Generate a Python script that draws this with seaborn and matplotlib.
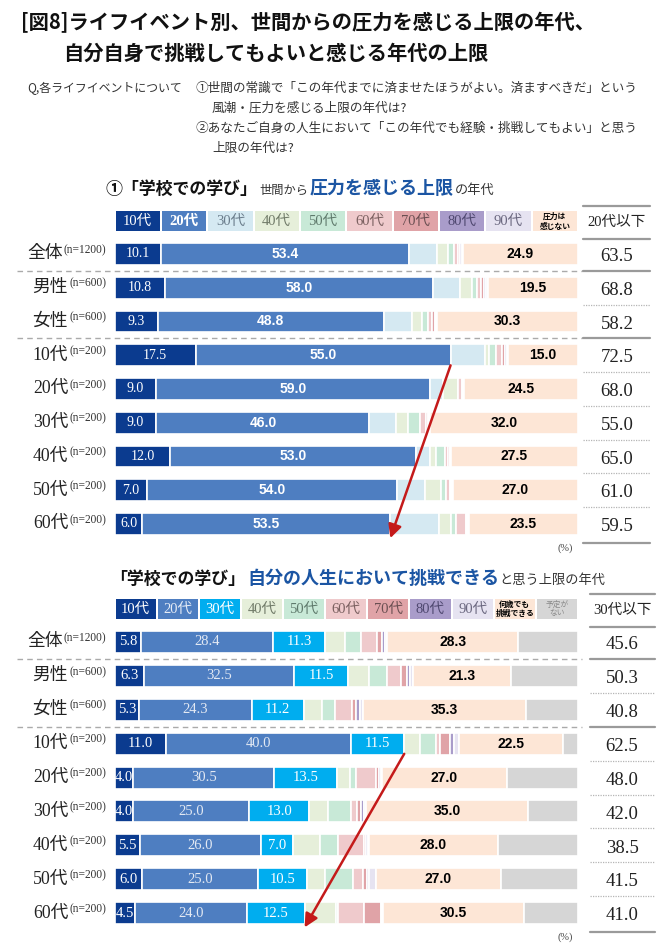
import numpy as np
import matplotlib
matplotlib.use('Agg')
import matplotlib.pyplot as plt
import seaborn as sns
from matplotlib.patches import Rectangle

rows = ['全体', '男性', '女性', '10代', '20代', '30代', '40代', '50代', '60代']
row_n = ['(n=1200)', '(n=600)', '(n=600)'] + ['(n=200)'] * 6

# ① 世間から圧力を感じる上限の年代 (%)
p_10s = [10.1, 10.8, 9.3, 17.5, 9.0, 9.0, 12.0, 7.0, 6.0]
p_20s = [53.4, 58.0, 48.8, 55.0, 59.0, 46.0, 53.0, 54.0, 53.5]
p_30s = [6.0, 5.7, 6.0, 7.4, 2.8, 5.8, 3.0, 6.0, 10.4]
p_40s = [2.5, 2.6, 2.2, 1.0, 3.2, 2.6, 1.3, 3.4, 2.8]
p_50s = [1.2, 1.1, 1.4, 1.5, 0.2, 2.5, 2.1, 1.2, 0.9]
p_60s = [1.0, 0.8, 0.9, 1.1, 0.7, 1.3, 0.6, 0.7, 2.2]
p_70s = [0.4, 0.7, 0.5, 0.7, 0.3, 0.4, 0.3, 0.3, 0.3]
p_80s = [0.3, 0.5, 0.3, 0.4, 0.2, 0.2, 0.1, 0.2, 0.2]
p_90s = [0.2, 0.3, 0.2, 0.4, 0.1, 0.2, 0.1, 0.2, 0.2]
p_none = [24.9, 19.5, 30.3, 15.0, 24.5, 32.0, 27.5, 27.0, 23.5]
p_total = [63.5, 68.8, 58.2, 72.5, 68.0, 55.0, 65.0, 61.0, 59.5]

# ② 自分の人生において挑戦できると思う上限の年代 (%)
c_10s = [5.8, 6.3, 5.3, 11.0, 4.0, 4.0, 5.5, 6.0, 4.5]
c_20s = [28.4, 32.5, 24.3, 40.0, 30.5, 25.0, 26.0, 25.0, 24.0]
c_30s = [11.3, 11.5, 11.2, 11.5, 13.5, 13.0, 7.0, 10.5, 12.5]
c_40s = [4.3, 4.7, 3.9, 3.4, 2.8, 4.0, 5.8, 4.0, 6.7]
c_50s = [3.4, 3.8, 2.9, 3.4, 1.4, 5.1, 3.9, 5.9, 0.6]
c_60s = [3.4, 3.1, 3.6, 1.0, 4.3, 1.2, 5.6, 2.3, 5.5]
c_70s = [1.1, 1.1, 1.0, 2.0, 0.6, 0.9, 0.5, 0.7, 3.6]
c_80s = [0.6, 0.8, 0.7, 1.0, 0.3, 0.6, 0.3, 0.4, 0.3]
c_90s = [0.5, 0.5, 0.6, 1.0, 0.3, 0.4, 0.2, 1.6, 0.2]
c_any = [28.3, 21.3, 35.3, 22.5, 27.0, 35.0, 28.0, 27.0, 30.5]
c_none = [12.8, 14.4, 11.2, 3.2, 15.3, 10.8, 17.2, 16.6, 11.6]
c_total = [45.6, 50.3, 40.8, 62.5, 48.0, 42.0, 38.5, 41.5, 41.0]

top_keys = ['10代', '20代', '30代', '40代', '50代', '60代', '70代', '80代', '90代', '圧力は\n感じない']
bot_keys = ['10代', '20代', '30代', '40代', '50代', '60代', '70代', '80代', '90代',
            '何歳でも\n挑戦できる', '予定が\nない']

NAVY, BLUE, PALE, CYAN = '#0b3b8f', '#4e7ec1', '#d5e9f2', '#00adef'
G40, G50, P60, P70 = '#e6efda', '#c8e9d7', '#efcacc', '#e0a3a7'
V80, V90, PEACH, GRAY = '#a99cca', '#e6e3f1', '#fde6d6', '#d6d6d6'
RED = '#c41a1a'

top_colors = [NAVY, BLUE, PALE, G40, G50, P60, P70, V80, V90, PEACH]
bot_colors = [NAVY, BLUE, CYAN, G40, G50, P60, P70, V80, V90, PEACH, GRAY]
top_txt = ['white', 'white', '#6b7d8c', '#707a68', '#5f7a6c', '#7a6060', '#6a4f52', '#4f4870', '#6b6880', 'black']
bot_txt = ['white', '#e6ecf6', 'white', '#707a68', '#5f7a6c', '#7a6060', '#6a4f52', '#4f4870', '#6b6880',
           'black', '#8a8a8a']

sns.set_theme(style='white')
plt.rcParams['font.family'] = ['Noto Sans CJK JP', 'DejaVu Sans']
SERIF = ['Liberation Serif', 'Noto Sans CJK JP']
BOLD = ['Liberation Sans', 'Noto Sans CJK JP']

W, H = 670, 948
fig = plt.figure(figsize=(W / 100, H / 100), dpi=100)
fig.patch.set_facecolor('white')
renderer = fig.canvas.get_renderer()


def put(x, y, s, **kw):
    kw.setdefault('va', 'center')
    return fig.text(x / W, 1 - y / H, s, **kw)


def chain(x, y, parts):
    for s, gap, kw in parts:
        t = put(x + gap, y, s, va='baseline', **kw)
        x = t.get_window_extent(renderer).x1


# title and question
put(21, 23, '[図8]ライフイベント別、世間からの圧力を感じる上限の年代、', fontsize=14.6, weight='bold', color='#111111')
put(63, 53, '自分自身で挑戦してもよいと感じる年代の上限', fontsize=14.6, weight='bold', color='#111111')
q = dict(fontsize=9.1, color='#333333')
put(27, 88, 'Q,各ライフイベントについて', fontsize=8.6, color='#333333')
put(196, 88, '①世間の常識で「この年代までに済ませたほうがよい。済ますべきだ」という', **q)
put(212, 108, '風潮・圧力を感じる上限の年代は?', **q)
put(196, 128, '②あなたご自身の人生において「この年代でも経験・挑戦してもよい」と思う', **q)
put(212, 148, '上限の年代は?', **q)

chain(106, 194, [('①「学校での学び」', 0, dict(fontsize=12.2, weight='bold', color='#111111')),
                 ('世間から', 2, dict(fontsize=8.8, color='#333333')),
                 ('圧力を感じる上限', 1, dict(fontsize=13, weight='bold', color='#1b55a3')),
                 ('の年代', 1, dict(fontsize=9.5, color='#333333'))])
chain(110, 584, [('「学校での学び」', 0, dict(fontsize=12.2, weight='bold', color='#111111')),
                 ('自分の人生において挑戦できる', 2, dict(fontsize=13, weight='bold', color='#1b55a3')),
                 ('と思う上限の年代', 0, dict(fontsize=9.5, color='#333333'))])


def draw_chart(top_px, step, series, colors, keys, key_colors, labels, totals, head, col_x, arrow):
    ax = fig.add_axes([114.6 / W, 1 - (top_px + 9 * step) / H, 463.4 / W, 9 * step / H])
    left = np.zeros(len(rows))
    for k, (vals, col) in enumerate(zip(series, colors)):
        sns.barplot(x=vals, y=rows, left=left, color=col, saturation=1, width=0.65, orient='h',
                    errorbar=None, edgecolor='white', linewidth=1.2, ax=ax)
        if k in labels:
            ax.bar_label(ax.containers[-1], labels=['%.1f' % v for v in vals], label_type='center',
                         clip_on=True, **labels[k])
        left = left + np.array(vals)
    ax.set_xlim(0, 100)
    ax.set_ylim(8.5, -0.5)
    ax.axis('off')
    tr = ax.get_yaxis_transform()

    # legend keys
    n = len(keys)
    g = 1 / 463.4
    for i, (key, col, tc) in enumerate(zip(keys, colors, key_colors)):
        ax.add_patch(Rectangle((i / n + g, -1.27), 1 / n - 2 * g, 0.6, facecolor=col, edgecolor='none',
                               transform=tr, clip_on=False))
        if '\n' in key:
            ax.text((i + 0.5) / n, -0.97, key, transform=tr, ha='center', va='center', fontsize=5.6,
                    weight='bold' if tc == 'black' else 'normal', color=tc, linespacing=1.1)
        else:
            ax.text((i + 0.5) / n, -0.97, key, transform=tr, ha='center', va='center', fontsize=10.5,
                    family=SERIF, color=tc,
                    weight='bold' if (head == '20代以下' and key == '20代') else 'normal')

    # separators
    for yb in (0.5, 2.5):
        ax.plot([-0.21, 1.009], [yb, yb], transform=tr, color='#aaaaaa', lw=1, ls=(0, (4, 3)),
                clip_on=False)

    # right column
    x0, x1, xc = col_x
    solid = dict(color='#9a9a9a', lw=1.6, clip_on=False, transform=tr)
    dotted = dict(color='#b5b5b5', lw=0.9, ls=(0, (1, 1)), clip_on=False, transform=tr)
    for yb in (-1.42, -0.43, 0.5, 2.5, 8.55):
        ax.plot([x0, x1], [yb, yb], **solid)
    for yb in (1.5, 3.5, 4.5, 5.5, 6.5, 7.5):
        ax.plot([x0, x1], [yb, yb], **dotted)
    ax.text(xc, -0.93, head, transform=tr, ha='center', va='center', fontsize=10.5, family=SERIF,
            color='#222222')
    for i, v in enumerate(totals):
        ax.text(xc, i + 0.08, '%.1f' % v, transform=tr, ha='center', va='center', fontsize=13.5,
                family=SERIF, color='#222222')
    ax.text(0.972, 8.72, '(%)', transform=tr, ha='center', va='center', fontsize=7.5, family=SERIF,
            color='#444444')

    # row labels
    for i, (lab, nn) in enumerate(zip(rows, row_n)):
        y = ax.transData.transform((0, i))[1]
        tn = fig.text(106 / W, (y + 4) / H, nn, ha='right', va='center', fontsize=8.3, family=SERIF,
                      color='#333333')
        xl = tn.get_window_extent(renderer).x0
        fig.text((xl - 1) / W, y / H, lab, ha='right', va='center', fontsize=12.8, family=SERIF,
                 color='#222222')

    # trend arrow
    (xa, ya), (xb, yb) = arrow
    ax.annotate('', xy=(xb, yb), xytext=(xa, ya), annotation_clip=False,
                arrowprops=dict(arrowstyle='-|>', color=RED, lw=1.8, mutation_scale=20,
                                shrinkA=0, shrinkB=0))
    return ax


w_serif = dict(fontsize=10, family=SERIF, color='white')
w_bold = dict(fontsize=10, family=BOLD, weight='bold', color='white')
k_bold = dict(fontsize=10, family=BOLD, weight='bold', color='black')

draw_chart(237.1, 33.75,
           [p_10s, p_20s, p_30s, p_40s, p_50s, p_60s, p_70s, p_80s, p_90s, p_none],
           top_colors, top_keys, top_txt,
           {0: w_serif, 1: w_bold, 9: k_bold},
           p_total, '20代以下', (1.0108, 1.155, 1.084),
           ((p_total[3], 3.3), (p_total[8], 8.42)))

draw_chart(625.0, 33.9,
           [c_10s, c_20s, c_30s, c_40s, c_50s, c_60s, c_70s, c_80s, c_90s, c_any, c_none],
           bot_colors, bot_keys, bot_txt,
           {0: dict(fontsize=10.5, family=SERIF, color='white'),
            1: dict(fontsize=10.5, family=SERIF, color='#e3e9f3'),
            2: dict(fontsize=10.5, family=SERIF, color='white'),
            9: k_bold},
           c_total, '30代以下', (1.026, 1.166, 1.095),
           ((c_total[3], 3.3), (c_total[8], 8.42)))

fig.savefig('out.png', dpi=100, facecolor='white')
